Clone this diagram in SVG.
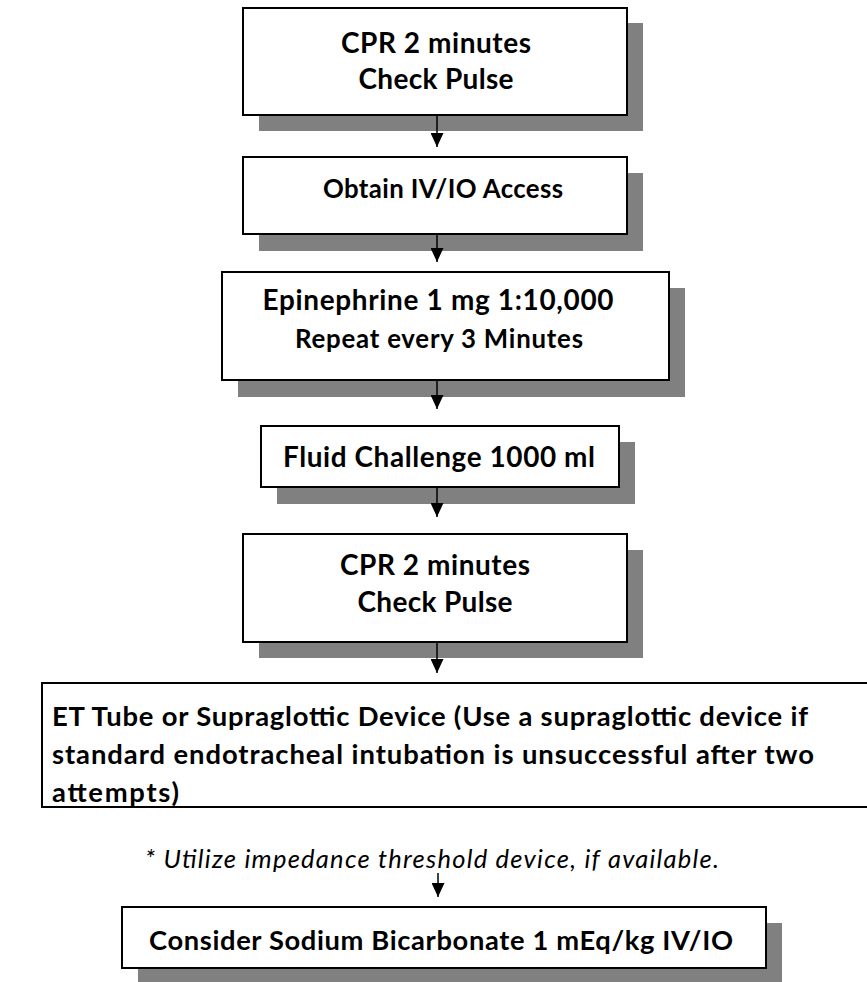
<svg xmlns="http://www.w3.org/2000/svg" width="867" height="982" viewBox="0 0 867 982">
<style>
.shadow{fill:#808080}
.box{fill:#fff;stroke:#000;stroke-width:2}
.t{font-family:Lato,"Liberation Sans",Arial,sans-serif;font-weight:bold;fill:#000}
.c{text-anchor:middle}
.it{font-family:Lato,"Liberation Sans",Arial,sans-serif;font-style:italic;fill:#000;text-anchor:middle}
.conn{stroke:#000;stroke-width:1.5;fill:none;marker-end:url(#ah)}
</style>
<defs>
<marker id="ah" markerUnits="userSpaceOnUse" markerWidth="14" markerHeight="13" refX="14" refY="6.5" orient="auto" viewBox="0 0 14 13">
<path d="M0,0 L14,6.5 L0,13 Z" fill="#000"/>
</marker>
<clipPath id="etclip"><rect x="0" y="684" width="867" height="122"/></clipPath>
</defs>
<rect width="867" height="982" fill="#fff"/>
<g id="n1">
<rect class="shadow" x="259" y="23" width="384" height="108"/>
<rect class="box" x="243" y="8" width="384" height="107"/>
<text class="t c" x="436" y="53" font-size="28" textLength="190">CPR 2 minutes</text>
<text class="t c" x="436" y="89" font-size="28" textLength="155">Check Pulse</text>
</g>
<g id="n2">
<rect class="shadow" x="259" y="173" width="384" height="78"/>
<rect class="box" x="243" y="157" width="384" height="77"/>
<text class="t c" x="443" y="198" font-size="25.8" textLength="240">Obtain IV/IO Access</text>
</g>
<g id="n3">
<rect class="shadow" x="238" y="288" width="447" height="109"/>
<rect class="box" x="222" y="272" width="447" height="108"/>
<text class="t c" x="438" y="310" font-size="27.9" textLength="351">Epinephrine 1 mg 1:10,000</text>
<text class="t c" x="439" y="348" font-size="25.8" textLength="288">Repeat every 3 Minutes</text>
</g>
<g id="n4">
<rect class="shadow" x="277" y="442" width="358" height="62"/>
<rect class="box" x="261" y="426" width="358" height="61"/>
<text class="t c" x="439" y="467" font-size="27.9" textLength="312">Fluid Challenge 1000 ml</text>
</g>
<g id="n5">
<rect class="shadow" x="259" y="550" width="384" height="108"/>
<rect class="box" x="243" y="534" width="384" height="108"/>
<text class="t c" x="435" y="575" font-size="28" textLength="190">CPR 2 minutes</text>
<text class="t c" x="435" y="612" font-size="28" textLength="155">Check Pulse</text>
</g>
<g id="n6">
<rect class="box" x="42" y="683" width="900" height="124"/>
<g clip-path="url(#etclip)">
<text class="t" x="52" y="726" font-size="27.4" textLength="756">ET Tube or Supraglottic Device (Use a supraglottic device if</text>
<text class="t" x="52" y="764" font-size="27.4" textLength="762">standard endotracheal intubation is unsuccessful after two</text>
<text class="t" x="52" y="802" font-size="27.4" textLength="127">attempts)</text>
</g>
</g>
<g id="note">
<text class="it" x="432" y="868" font-size="25.5" textLength="574">* Utilize impedance threshold device, if available.</text>
</g>
<g id="n7">
<rect class="shadow" x="138" y="923" width="644" height="62"/>
<rect class="box" x="122" y="907" width="644" height="61"/>
<text class="t c" x="441" y="950" font-size="27.3" textLength="584">Consider Sodium Bicarbonate 1 mEq/kg IV/IO</text>
</g>
<g id="connectors">
<line class="conn" x1="437" y1="115" x2="437" y2="147"/>
<line class="conn" x1="437" y1="234" x2="437" y2="262"/>
<line class="conn" x1="437" y1="380" x2="437" y2="409"/>
<line class="conn" x1="437" y1="487" x2="437" y2="517"/>
<line class="conn" x1="437" y1="642" x2="437" y2="673"/>
<line class="conn" x1="438" y1="873" x2="438" y2="897"/>
</g>
</svg>
